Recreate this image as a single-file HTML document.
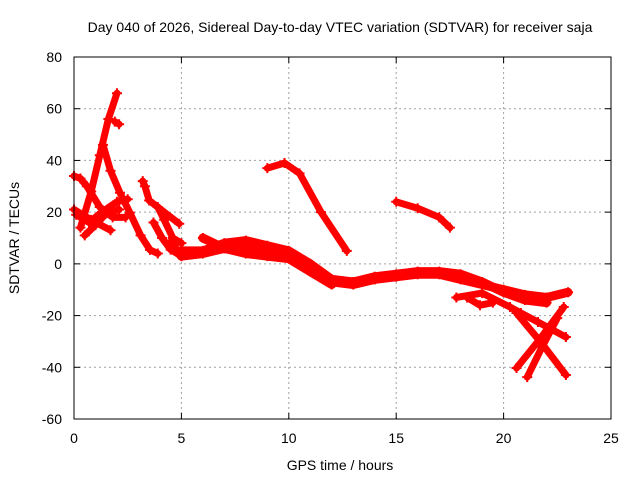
<!DOCTYPE html>
<html><head><meta charset="utf-8"><style>
body{margin:0;background:#fff}
svg{display:block;font-family:"Liberation Sans",sans-serif}
</style></head><body>
<svg id="c" width="640" height="480" xmlns="http://www.w3.org/2000/svg">
<text x="340" y="32" font-size="14" text-anchor="middle">Day 040 of 2026, Sidereal Day-to-day VTEC variation (SDTVAR) for receiver saja</text>
<text x="340" y="470" font-size="14" text-anchor="middle">GPS time / hours</text>
<text transform="translate(19,238) rotate(-90)" font-size="14" text-anchor="middle">SDTVAR / TECUs</text>
<g id="grid"></g><g id="ticks"></g><g id="marks"></g>
<rect x="74" y="57" width="537" height="362" fill="none" stroke="#000" stroke-width="1"/>
</svg>
<script>
const xTicks=[0,5,10,15,20,25];
const yTicks=[-60,-40,-20,0,20,40,60,80];
const track1=[[0.3,14],[0.8,28],[1.2,42],[1.6,56],[2.0,66]];
const track2=[[1.35,46],[1.7,36],[2.14,27.5],[2.6,19.8],[3.1,11],[3.54,5.4],[3.9,4]];
const track3=[[0.0,21],[0.8,17],[1.7,13]];
const track4=[[0.1,19],[0.7,16],[1.3,20],[2.0,24],[2.5,25]];
const track5=[[0.0,34],[0.3,33],[0.6,30],[1.2,22],[1.8,18],[2.4,18]];
const track6=[[0.5,11],[1.0,15],[1.5,19.5],[2.1,21]];
const track7=[[3.9,22],[4.2,17],[4.6,10],[5.0,8]];
const track8=[[3.7,16],[4.1,10],[4.5,5.5],[5.0,3]];
const band1=[[4.5,8],[5,3],[6,4],[7,6],[8,7],[9,5],[10,4],[11,-2],[12,-7],[13,-8],[14,-6],[15,-5],[16,-4],[17,-4],[18,-6],[19,-8],[20,-10],[21,-12],[22,-13],[23,-11]];
const band2=[[5,5],[6,5],[7,8],[8,9],[9,7],[10,5],[11,0],[12,-6],[13,-7],[14,-5],[15,-4],[16,-3],[17,-3],[18,-4],[19,-7],[20,-11],[21,-14],[22,-15]];
const band3=[[6,10],[7,6],[8,4],[9,3],[10,2],[11,-3],[12,-8]];
const track9=[[9,37],[9.8,39],[10.5,35],[11.5,20],[12.7,5]];
const track10=[[15,24],[16,21.5],[17,18],[17.5,14]];
const track11=[[17.8,-13],[19,-11.3],[20.3,-16.7],[20.8,-19],[21.6,-22.5],[22.9,-28.3]];
const track12=[[20.6,-19],[21.8,-31],[22.9,-43]];
const track13=[[20.6,-40.3],[21.7,-29],[22.8,-16.7]];
const track14=[[21.1,-43.8],[21.8,-32],[22.5,-21]];
const track15=[[18.3,-13],[18.9,-16],[19.5,-15]];
const track16=[[1.9,55],[2.1,54]];
const track17=[[3.2,32],[3.3,30],[3.5,24.5],[4.9,15.5]];
const tracks=[track1,track2,track3,track4,track5,track6,track7,track8,band1,band2,band3,track9,track10,track11,track12,track13,track14,track15,track16,track17];
const X0=74,X1=611,Y0=419,Y1=57;
const sx=t=>X0+(t-0)/25*(X1-X0);
const sy=v=>Y0-(v+60)/140*(Y0-Y1);
const NS="http://www.w3.org/2000/svg";
const grid=document.getElementById('grid'),tk=document.getElementById('ticks'),mk=document.getElementById('marks');
function el(n,a,p){const e=document.createElementNS(NS,n);for(const k in a)e.setAttribute(k,a[k]);p.appendChild(e);return e;}
xTicks.forEach(t=>{const x=sx(t);
 if(t>0&&t<25){const g=el('line',{x1:x,x2:x,y1:Y1,y2:Y0,stroke:'#a0a0a0','stroke-dasharray':'2,3'},grid);
 
 }
 const l=el('text',{x:x,y:443,'font-size':14,'text-anchor':'middle'},tk);l.textContent=t;
 
 
 el('line',{x1:x,x2:x,y1:Y0,y2:Y0-6,stroke:'#000'},tk);el('line',{x1:x,x2:x,y1:Y1,y2:Y1+6,stroke:'#000'},tk);});
yTicks.forEach(v=>{const y=sy(v);
 if(v>-60&&v<80){const g=el('line',{x1:X0,x2:X1,y1:y,y2:y,stroke:'#a0a0a0','stroke-dasharray':'2,3'},grid);
 
 }
 const l=el('text',{x:62,y:y+5,'font-size':14,'text-anchor':'end'},tk);l.textContent=v;
 
 
 el('line',{x1:X0,x2:X0+6,y1:y,y2:y,stroke:'#000'},tk);el('line',{x1:X1,x2:X1-6,y1:y,y2:y,stroke:'#000'},tk);});
tracks.forEach((tr,i)=>{
 const w=(i>=8&&i<=10)?9:7;
 const p=el('polyline',{points:tr.map(d=>sx(d[0])+','+sy(d[1])).join(' '),fill:'none',stroke:'#f00','stroke-width':w,'stroke-linejoin':'round','stroke-linecap':'round'},mk);
 
 
 tr.forEach(d=>{const x=sx(d[0]),y=sy(d[1]);
  const m=el('path',{d:`M${x-5},${y}H${x+5}M${x},${y-5}V${y+5}`,stroke:'#f00','stroke-width':2},mk);
  
  });
});
</script>
</body></html>
